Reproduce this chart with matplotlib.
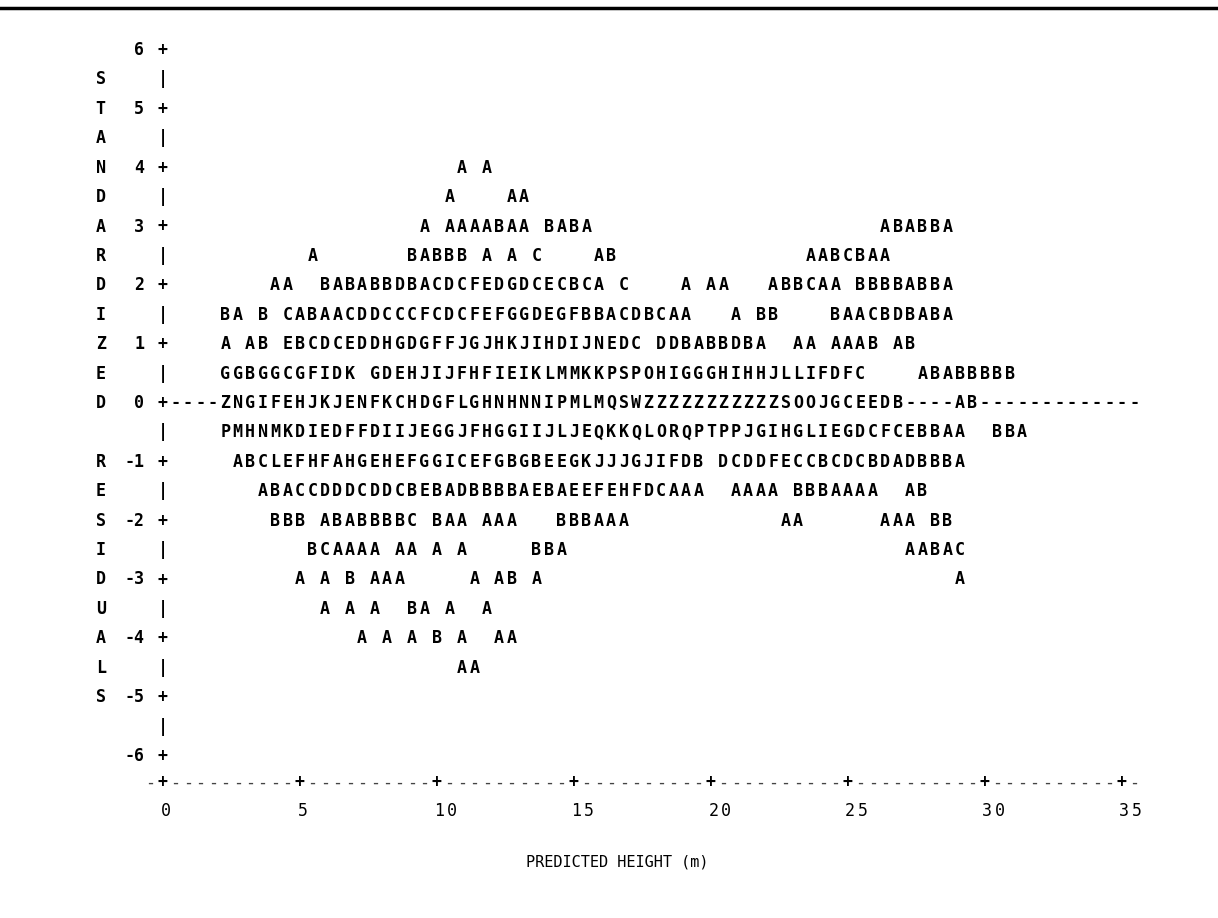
import numpy as np
import matplotlib
matplotlib.use("Agg")
import matplotlib.pyplot as plt
from matplotlib.lines import Line2D

# printer plot of standardized residuals vs predicted height
# each line starts at print column 1 (column 0 is the vertical axis)
# letters: A = 1 obs, B = 2 obs, ... Z = 26 or more
residual_levels = [4.0, 3.5, 3.0, 2.5, 2.0, 1.5, 1.0, 0.5, 0.0,
                   -0.5, -1.0, -1.5, -2.0, -2.5, -3.0, -3.5, -4.0, -4.5]
plot_lines = [
    "                       A A",
    "                      A    AA",
    "                    A AAAABAA BABA                       ABABBA",
    "           A       BABBB A A C    AB               AABCBAA",
    "        AA  BABABBDBACDCFEDGDCECBCA C    A AA   ABBCAA BBBBABBA",
    "    BA B CABAACDDCCCFCDCFEFGGDEGFBBACDBCAA   A BB    BAACBDBABA",
    "    A AB EBCDCEDDHGDGFFJGJHKJIHDIJNEDC DDBABBDBA  AA AAAB AB",
    "    GGBGGCGFIDK GDEHJIJFHFIEIKLMMKKPSPOHIGGGHIHHJLLIFDFC    ABABBBBB",
    "----ZNGIFEHJKJENFKCHDGFLGHNHNNIPMLMQSWZZZZZZZZZZZSOOJGCEEDB----AB-------------",
    "    PMHNMKDIEDFFDIIJEGGJFHGGIIJLJEQKKQLORQPTPPJGIHGLIEGDCFCEBBAA  BBA",
    "     ABCLEFHFAHGEHEFGGICEFGBGBEEGKJJJGJIFDB DCDDFECCBCDCBDADBBBA",
    "       ABACCDDDCDDCBEBADBBBBAEBAEEFEHFDCAAA  AAAA BBBAAAA  AB",
    "        BBB ABABBBBC BAA AAA   BBBAAA            AA      AAA BB",
    "           BCAAAA AA A A     BBA                           AABAC",
    "          A A B AAA     A AB A                                 A",
    "            A A A  BA A  A",
    "               A A A B A  AA",
    "                       AA",
]

y_ticks = [6, 5, 4, 3, 2, 1, 0, -1, -2, -3, -4, -5, -6]
x_ticks = [0, 5, 10, 15, 20, 25, 30, 35]
y_title = "STANDARDIZED"
y_title2 = "RESIDUALS"
x_title = "PREDICTED HEIGHT (m)"

COLS_PER_TICK = 11          # print columns between x ticks
unit = 5 / COLS_PER_TICK    # predicted height per print column

font = dict(family="DejaVu Sans Mono", fontsize=12, fontweight="bold",
            color="black", ha="center", va="center")

fig = plt.figure(figsize=(12.18, 9.18), dpi=100)
W, H = 1218, 918
x0_px, pitch = 163, 12.45
ax = fig.add_axes([x0_px / W, (H - 756) / H, 77 * pitch / W, 706 / H])
ax.set_xlim(0, 35)
ax.set_ylim(-6, 6)
ax.axis("off")


def put(col, y, s, **kw):
    d = dict(font)
    d.update(kw)
    ax.text(col * unit, y, s, clip_on=False, **d)


# plotted symbols
for y, line in zip(residual_levels, plot_lines):
    for i, ch in enumerate(line):
        if ch != " ":
            put(i + 1, y, ch)

# vertical axis
for y in np.arange(6, -6.5, -0.5):
    put(0, y, "+" if y == int(y) else "|")
for t in y_ticks:
    ax.text(-1.5 * unit, t, str(t), clip_on=False,
            **{**font, "ha": "right"})

# vertical title letters
for k, ch in enumerate(y_title):
    put(-5, 5.5 - 0.5 * k, ch)
for k, ch in enumerate(y_title2):
    put(-5, -1 - 0.5 * k, ch)

# horizontal axis
ncol = COLS_PER_TICK * (len(x_ticks) - 1)
for c in range(-1, ncol + 2):
    if c >= 0 and c % COLS_PER_TICK == 0 and c <= ncol:
        put(c, -6.45, "+")
    else:
        put(c, -6.45, "-", color="#444444", fontweight="normal")
for t in x_ticks:
    c = t / unit
    for k, ch in enumerate(str(t)):
        put(c + k + 0.2, -6.93, ch, fontweight="normal")

ax.text(16.6, -7.8, x_title, clip_on=False,
        **{**font, "fontsize": 11, "fontweight": "normal"})

fig.add_artist(Line2D([0, 1], [1 - 8 / H, 1 - 8 / H], color="black", lw=2.5))

fig.savefig("out.png", dpi=100, facecolor="white")
